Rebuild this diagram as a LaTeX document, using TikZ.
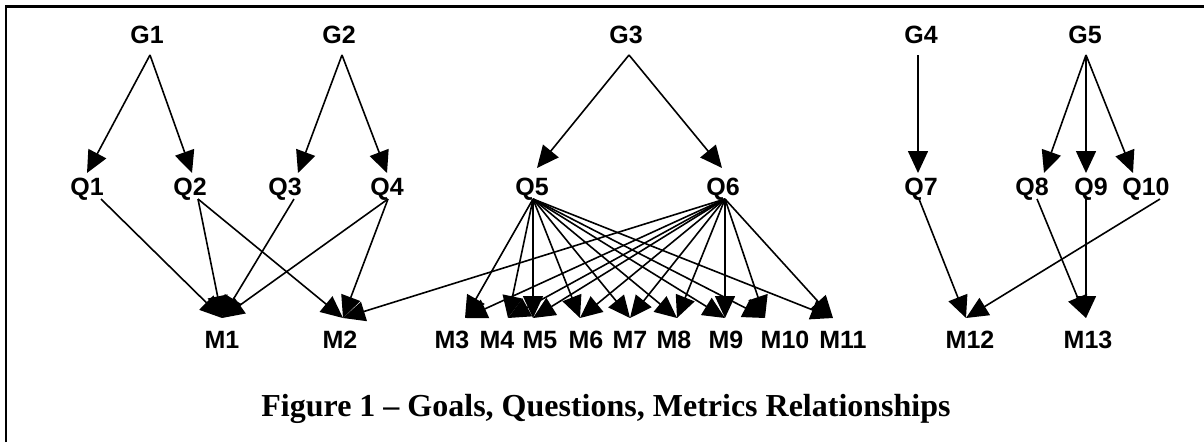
\documentclass[tikz,border=0pt]{standalone}
\usepackage{fontspec}
\newfontfamily\lblfont{Liberation Sans}
\newfontfamily\capfont{Liberation Serif}
\usetikzlibrary{arrows.meta}
\begin{document}
\begin{tikzpicture}[x=1pt,y=-1pt,
  lbl/.style={font=\lblfont\bfseries\fontsize{25}{27}\selectfont, inner sep=0pt, anchor=base},
  conn/.style={line width=1.6pt, -{Triangle[length=22pt,width=20pt]}},
  frame/.style={line width=2.3pt}]
\useasboundingbox (0,0) rectangle (1204,442);
\draw[frame] (6.2,442) -- (6.2,6.5) -- (1204,6.5);

% goals
\foreach \n/\x in {G1/147,G2/339,G3/626,G4/921,G5/1085}
  \node[lbl] (\n) at (\x,43) {\n};
% questions
\foreach \n/\x in {Q1/87,Q2/190,Q3/285,Q4/387,Q5/532,Q6/723,Q7/921,Q8/1032,Q9/1091,Q10/1146}
  \node[lbl] (\n) at (\x,195) {\n};
% metrics
\foreach \n/\x in {M1/222,M2/340,M3/452,M4/497,M5/540,M6/586,M7/630,M8/674,M9/726,M10/785,M11/843,M12/970,M13/1088}
  \node[lbl] (\n) at (\x,348) {\n};

\node[font=\capfont\bfseries\fontsize{32}{34}\selectfont, inner sep=0pt, anchor=base] (cap) at (606,416)
  {Figure 1 – Goals, Questions, Metrics Relationships};

% connector end points
\foreach \n/\x in {G1/150,G2/342,G3/629,G4/918,G5/1086}
  \coordinate (\n o) at (\x,55);
\foreach \n/\x/\y in {Q1/87/173,Q2/192/173,Q3/298/173,Q4/387/173,Q5/537/168,Q6/722/168,Q7/918/173,Q8/1044/173,Q9/1086/173,Q10/1133/173}
  \coordinate (\n i) at (\x,\y);
\foreach \n/\x in {Q1/101,Q2/198,Q3/294,Q4/388,Q5/533,Q6/725,Q7/919,Q8/1037,Q9/1086,Q10/1160}
  \coordinate (\n o) at (\x,199);
\foreach \n/\x in {M1/222,M2/343,M3/465,M4/508,M5/533,M6/580,M7/630,M8/677,M9/725,M10/765,M11/833,M12/966,M13/1086}
  \coordinate (\n i) at (\x,318);

% goals -> questions
\foreach \a/\b in {G1/Q1,G1/Q2,G2/Q3,G2/Q4,G3/Q5,G3/Q6,G4/Q7,G5/Q8,G5/Q9,G5/Q10}
  \draw[conn] (\a o) -- (\b i);
% questions -> metrics
\foreach \a/\b in {Q1/M1,Q2/M1,Q2/M2,Q3/M1,Q4/M1,Q4/M2,
  Q5/M3,Q5/M4,Q5/M5,Q5/M6,Q5/M7,Q5/M8,Q5/M9,Q5/M10,Q5/M11,
  Q6/M2,Q6/M3,Q6/M4,Q6/M5,Q6/M6,Q6/M7,Q6/M8,Q6/M9,Q6/M10,Q6/M11,
  Q7/M12,Q10/M12,Q8/M13,Q9/M13}
  \draw[conn] (\a o) -- (\b i);
\end{tikzpicture}
\end{document}
